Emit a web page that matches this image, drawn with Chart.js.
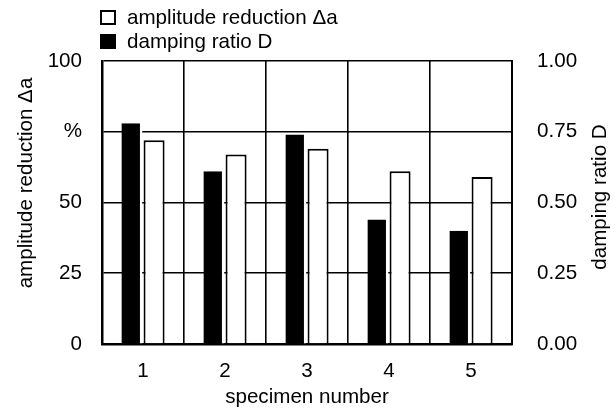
<!DOCTYPE html>
<html lang="en">
<head>
    <meta charset="UTF-8">
    <title>Damping ratio and amplitude reduction</title>
    <style>
        body { margin: 0; background: #fff; }
        #wrap { position: relative; width: 616px; height: 414px; }
        .leg { position: absolute; left: 100px; font: 20.6px "Liberation Sans", Arial, sans-serif; line-height: 24px; color: #000; white-space: nowrap; }
        .leg i { display: inline-block; width: 12px; height: 11px; border: 2px solid #000; vertical-align: -1px; margin-right: 11px; }
    </style>
</head>
<body>
    <div id="wrap">
        <canvas id="myChart" width="616" height="414"></canvas>
        <div class="leg" style="top:5px"><i></i>amplitude reduction Δa</div>
        <div class="leg" style="top:29px"><i style="background:#000"></i>damping ratio D</div>
    </div>

    <script src="https://cdn.jsdelivr.net/npm/chart.js"></script>
    <script>
        const specimens = ['1', '2', '3', '4', '5'];
        const dampingRatio = [0.78, 0.61, 0.74, 0.44, 0.40];
        const amplitudeReduction = [72, 67, 69, 61, 59];
        const leftTicks = [0, 25, 50, 75, 100];
        const rightTicks = [0, 0.25, 0.5, 0.75, 1];

        const font = { family: '"Liberation Sans", Arial, sans-serif', size: 20.6 };

        // vertical titles, both reading bottom to top
        const sideTitles = {
            id: 'sideTitles',
            afterDraw(chart) {
                const ctx = chart.ctx;
                const drawUp = (text, x, y) => {
                    ctx.save();
                    ctx.translate(x, y);
                    ctx.rotate(-Math.PI / 2);
                    ctx.fillText(text, 0, 0);
                    ctx.restore();
                };
                ctx.save();
                ctx.font = '20.6px "Liberation Sans", Arial, sans-serif';
                ctx.fillStyle = '#000';
                ctx.textAlign = 'center';
                ctx.textBaseline = 'middle';
                drawUp('amplitude reduction Δa', 26, 183);
                drawUp('damping ratio D', 600, 197);
                ctx.restore();
            }
        };

        new Chart(document.getElementById('myChart'), {
            type: 'bar',
            data: {
                labels: specimens,
                datasets: [{
                    label: 'damping ratio D',
                    data: dampingRatio,
                    yAxisID: 'y1',
                    backgroundColor: '#000',
                    borderColor: '#fff',
                    borderWidth: { top: 0, left: 0, bottom: 0, right: 2.5 },
                    categoryPercentage: 0.54,
                    barPercentage: 0.95
                }, {
                    label: 'amplitude reduction Δa',
                    data: amplitudeReduction,
                    yAxisID: 'y',
                    backgroundColor: '#fff',
                    borderColor: '#000',
                    borderWidth: 2,
                    categoryPercentage: 0.54,
                    barPercentage: 0.95
                }]
            },
            options: {
                responsive: false,
                animation: false,
                layout: { padding: { top: 61 } },
                plugins: {
                    legend: { display: false },
                    tooltip: { enabled: false }
                },
                scales: {
                    x: {
                        grid: { color: '#000', lineWidth: 1.6, drawTicks: false, offset: true },
                        border: { color: '#000', width: 2.5 },
                        ticks: { color: '#000', font: font, padding: 15 },
                        title: { display: true, text: 'specimen number', color: '#000', font: font, padding: { top: 0, bottom: 4 } },
                        afterFit(s) { s.height = 70; }
                    },
                    y: {
                        position: 'left',
                        min: 0,
                        max: 100,
                        afterBuildTicks(s) { s.ticks = leftTicks.map(v => ({ value: v })); },
                        grid: { color: '#000', lineWidth: 1.6, drawTicks: false },
                        border: { color: '#000', width: 2.5 },
                        ticks: {
                            color: '#000', font: font, padding: 20,
                            callback: v => v === 75 ? '%' : String(v)
                        },
                        afterFit(s) { s.width = 102; }
                    },
                    y1: {
                        position: 'right',
                        min: 0,
                        max: 1,
                        afterBuildTicks(s) { s.ticks = rightTicks.map(v => ({ value: v })); },
                        grid: { drawOnChartArea: false, drawTicks: false },
                        border: { color: '#000', width: 2 },
                        ticks: {
                            color: '#000', font: font, padding: 25,
                            callback: v => Number(v).toFixed(2)
                        },
                        afterFit(s) { s.width = 104; }
                    }
                }
            },
            plugins: [sideTitles]
        });
    </script>
</body>
</html>
